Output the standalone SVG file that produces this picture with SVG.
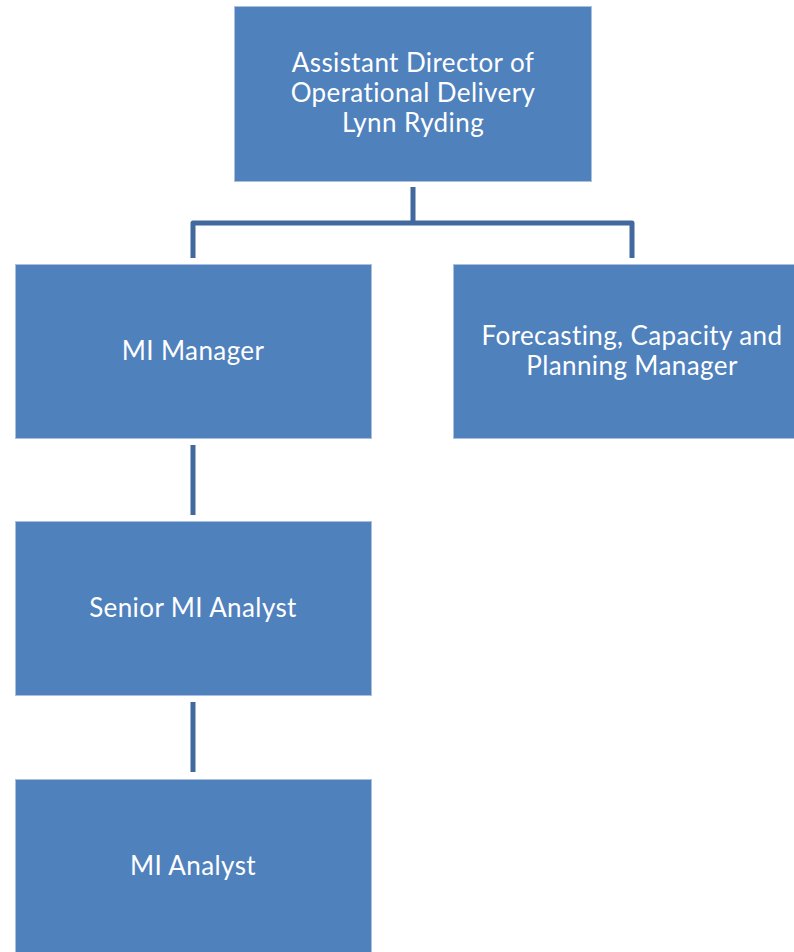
<svg xmlns="http://www.w3.org/2000/svg" width="794" height="952" viewBox="0 0 794 952">
<style>
.box{fill:#4F81BD;stroke:#A9C0DE;stroke-width:1}
.lbl{font-family:Lato,"Open Sans",sans-serif;font-size:26px;letter-spacing:0.4px;font-variant-ligatures:none;fill:#FFFFFF;text-anchor:middle}
.con{fill:none;stroke:#41699D;stroke-width:5;stroke-linejoin:round}
</style>
<rect width="794" height="952" fill="#FFFFFF"/>
<g id="connectors">
<path class="con" d="M413 187 V223 M193 258 V223 H632 V258"/>
<path class="con" d="M193 445 V515"/>
<path class="con" d="M193 702 V772"/>
</g>
<g id="n-director">
<rect class="box" x="234.5" y="6.5" width="357" height="175"/>
<text class="lbl" x="413" y="72">Assistant Director of</text>
<text class="lbl" x="413" y="102">Operational Delivery</text>
<text class="lbl" x="413" y="132">Lynn Ryding</text>
</g>
<g id="n-mi-manager">
<rect class="box" x="15.5" y="264.5" width="356" height="174"/>
<text class="lbl" x="193" y="360">MI Manager</text>
</g>
<g id="n-forecasting">
<rect class="box" x="453.5" y="264.5" width="345" height="174"/>
<text class="lbl" x="632" y="345">Forecasting, Capacity and</text>
<text class="lbl" x="632" y="375">Planning Manager</text>
</g>
<g id="n-senior">
<rect class="box" x="15.5" y="521.5" width="356" height="174"/>
<text class="lbl" x="193" y="617">Senior MI Analyst</text>
</g>
<g id="n-analyst">
<rect class="box" x="15.5" y="779.5" width="356" height="180"/>
<text class="lbl" x="193" y="875">MI Analyst</text>
</g>
</svg>
